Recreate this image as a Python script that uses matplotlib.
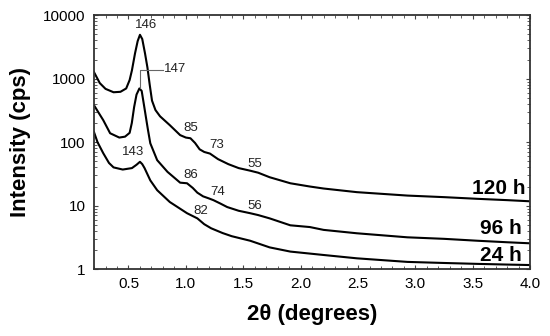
import matplotlib
matplotlib.use("Agg")
import matplotlib.pyplot as plt
from matplotlib.ticker import FixedLocator, LogLocator, NullFormatter, FuncFormatter

plt.rcParams['font.family'] = ['Liberation Sans', 'DejaVu Sans']

# 2theta (degrees) and intensity (cps) per sample
x_120 = [0.20, 0.25, 0.30, 0.37, 0.43, 0.48, 0.51, 0.53, 0.557, 0.58, 0.60, 0.62, 0.644, 0.665,
         0.685, 0.705, 0.735, 0.775, 0.86, 0.95, 1.00, 1.04, 1.08, 1.12, 1.16, 1.21, 1.28, 1.37, 1.46,
         1.56, 1.63, 1.73, 1.91, 2.08, 2.2, 2.49, 2.93, 3.25, 3.54, 3.8, 4.0]
y_120 = [1260, 850, 690, 610, 620, 700, 950, 1350, 2500, 3900, 4900, 4200, 2500, 1500,
         800, 450, 320, 255, 185, 129, 118, 115, 97, 77, 70, 66, 54, 45, 39,
         35.5, 33, 28, 22.5, 20, 18.6, 16.3, 14.4, 13.6, 12.8, 12.2, 11.7]

x_96 = [0.20, 0.24, 0.28, 0.34, 0.42, 0.47, 0.51, 0.529, 0.549, 0.57, 0.595, 0.615, 0.638, 0.66,
        0.67, 0.69, 0.75, 0.84, 0.95, 1.01, 1.06, 1.10, 1.15, 1.20, 1.24, 1.30, 1.36, 1.46,
        1.56, 1.63, 1.73, 1.91, 2.08, 2.2, 2.49, 2.93, 3.25, 3.54, 3.8, 4.0]
y_96 = [380, 290, 222, 138, 118, 122, 140, 200, 355, 560, 700, 640, 355, 200,
        155, 96, 52, 34, 23, 22.5, 19, 16, 14, 13, 12.2, 10.8, 9.5, 8.3,
        7.6, 7.1, 6.3, 4.9, 4.6, 4.15, 3.67, 3.17, 3.0, 2.8, 2.65, 2.55]

x_24 = [0.20, 0.23, 0.28, 0.33, 0.37, 0.45, 0.53, 0.57, 0.60, 0.62, 0.64, 0.69, 0.75, 0.86,
        1.01, 1.10, 1.16, 1.22, 1.32, 1.40, 1.56, 1.73, 1.91, 2.2, 2.49, 2.93, 3.25, 3.54, 3.8, 4.0]
y_24 = [143, 100, 67, 47, 40, 37, 39, 44, 49, 45, 39, 25, 17.5, 11.4,
        7.6, 6.3, 5.1, 4.4, 3.7, 3.3, 2.8, 2.2, 1.89, 1.67, 1.48, 1.30, 1.25, 1.21, 1.18, 1.16]

# peak annotations: (text, x, y)
ann_text = ["146", "85", "73", "55", "143", "86", "74", "56", "82"]
ann_x = [0.65, 1.04, 1.27, 1.60, 0.54, 1.04, 1.28, 1.60, 1.13]
ann_y = [6950, 166, 89, 46, 69, 30, 16.6, 9.7, 8.3]

series_labels = ["120 h", "96 h", "24 h"]
series_label_x = [3.96, 3.93, 3.93]
series_label_y = [18.4, 4.3, 1.63]

xticks = [0.5, 1.0, 1.5, 2.0, 2.5, 3.0, 3.5, 4.0]
yticks = [1, 10, 100, 1000, 10000]

fig = plt.figure(figsize=(5.5, 3.36), dpi=100)
ax = fig.add_axes([0.171, 0.199, 0.793, 0.756])

for xs, ys in [(x_120, y_120), (x_96, y_96), (x_24, y_24)]:
    ax.plot(xs, ys, color='black', lw=1.5, solid_joinstyle='round')

ax.set_yscale('log')
ax.set_xlim(0.2, 4.0)
ax.set_ylim(1, 10000)

ax.xaxis.set_major_locator(FixedLocator(xticks))
ax.xaxis.set_minor_locator(FixedLocator([0.2 + 0.1 * i for i in range(39)]))
ax.yaxis.set_major_locator(FixedLocator(yticks))
ax.yaxis.set_minor_locator(LogLocator(base=10, subs=range(2, 10)))
ax.yaxis.set_minor_formatter(NullFormatter())
ax.xaxis.set_major_formatter(FuncFormatter(lambda v, p: f"{v:.1f}"))
ax.yaxis.set_major_formatter(FuncFormatter(lambda v, p: f"{int(v)}"))

ax.tick_params(which='both', direction='in', top=True, right=True, labelsize=11, color='#444444')
ax.tick_params(which='major', length=3, width=0.8)
ax.tick_params(which='minor', length=2, width=0.6)
ax.tick_params(axis='x', pad=6)
ax.tick_params(axis='y', pad=6)
for s in ax.spines.values():
    s.set_linewidth(1.3)
    s.set_color('#333333')

ax.set_xlabel("2θ (degrees)", fontsize=16, fontweight='bold', labelpad=9)
ax.set_ylabel("Intensity (cps)", fontsize=16, fontweight='bold', labelpad=9)

for t, xx, yy in zip(ann_text, ann_x, ann_y):
    ax.text(xx, yy, t, fontsize=9.5, ha='center', va='center', color='#222222')

# leader line for 147
ax.plot([0.60, 0.60, 0.80], [700, 1380, 1380], color='#666666', lw=0.8)
ax.text(0.81, 1400, "147", fontsize=9.5, ha='left', va='center', color='#222222')

for lab, xx, yy in zip(series_labels, series_label_x, series_label_y):
    ax.text(xx, yy, lab, fontsize=15, fontweight='bold', ha='right', va='center')

fig.savefig("out.png", dpi=100)
